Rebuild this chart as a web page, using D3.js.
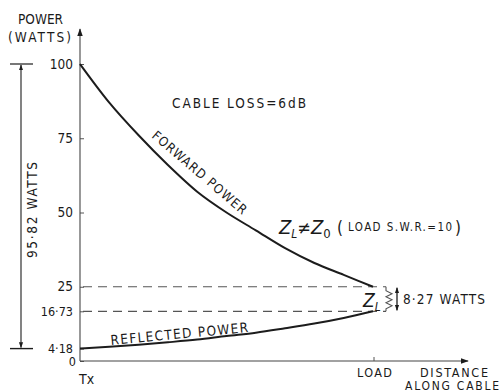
<!DOCTYPE html>
<html><head><meta charset="utf-8">
<script src="https://cdn.jsdelivr.net/npm/d3@7"></script>
<style>
body{margin:0;background:#fff;}
text{font-family:"DejaVu Sans Condensed","DejaVu Sans",sans-serif;fill:#1a1a1a;}
</style></head><body>
<svg id="c" width="501" height="392"></svg>
<script>
// Data
const distance = [0,0.1,0.2,0.3,0.4,0.5,0.6,0.7,0.8,0.9,1.0];          // fraction Tx -> Load
const forwardPower = [100,87,76,66,57,50,44,38,33,29,25];              // watts
const reflectedPower = [4.18,4.8,5.5,6.3,7.2,8.4,9.5,11,12.6,14.5,16.73];
const yTickValues = [100,75,50,25,16.73,4.18,0];
const dashedLevels = [25,16.73];
const netAtTx = "95·82 WATTS";
const netAtLoad = "8·27 WATTS";

const svg = d3.select("#c");
const x = d3.scaleLinear().domain([0,1]).range([80,373]);
const y = d3.scaleLinear().domain([0,100]).range([361,64]);
const ink = "#1c1c1c";

const defs = svg.append("defs");
defs.append("marker").attr("id","ah").attr("viewBox","0 0 10 10").attr("refX",9).attr("refY",5)
 .attr("markerWidth",8).attr("markerHeight",8).attr("orient","auto-start-reverse").attr("markerUnits","userSpaceOnUse")
 .append("path").attr("d","M0,1.5L10,5L0,8.5Z").attr("fill",ink);
defs.append("marker").attr("id","ahs").attr("viewBox","0 0 10 10").attr("refX",9).attr("refY",5)
 .attr("markerWidth",6).attr("markerHeight",6).attr("orient","auto-start-reverse").attr("markerUnits","userSpaceOnUse")
 .append("path").attr("d","M0,1.5L10,5L0,8.5Z").attr("fill",ink);

// Y axis
const yAxis = d3.axisRight(y).tickValues(yTickValues).tickSize(4).tickFormat("");
const gy = svg.append("g").attr("transform","translate(80,0)").call(yAxis);
gy.select(".domain").remove();
gy.selectAll(".tick line").attr("stroke","#555");
svg.append("line").attr("x1",80).attr("x2",80).attr("y1",y(0)).attr("y2",29)
 .attr("stroke","#444").attr("stroke-width",1.1).attr("marker-end","url(#ah)");
svg.selectAll("text.yt").data(yTickValues).join("text").attr("class","yt")
 .attr("x",d=>d===0?76:73).attr("y",d=>y(d)+ (d===0?5:4.5)).attr("text-anchor","end")
 .attr("font-size",d=>d<20?12.5:13.5).text(d=>String(d).replace(".","·"));

// X axis
svg.append("line").attr("x1",80).attr("x2",468).attr("y1",y(0)).attr("y2",y(0))
 .attr("stroke","#444").attr("stroke-width",1.1).attr("marker-end","url(#ah)");
svg.append("line").attr("x1",x(1)+1).attr("x2",x(1)+1).attr("y1",y(0)).attr("y2",y(0)-4).attr("stroke","#555");

// dashed levels
svg.selectAll("line.dl").data(dashedLevels).join("line").attr("class","dl")
 .attr("x1",83).attr("x2",386).attr("y1",d=>y(d)).attr("y2",d=>y(d))
 .attr("stroke","#555").attr("stroke-width",1.2).attr("stroke-dasharray","9,6");

// curves
const line = d3.line().x((d,i)=>x(distance[i])).y(d=>y(d)).curve(d3.curveMonotoneX);
svg.append("path").attr("d",line(forwardPower)).attr("fill","none").attr("stroke",ink).attr("stroke-width",2);
svg.append("path").attr("d",line(reflectedPower)).attr("fill","none").attr("stroke",ink).attr("stroke-width",2);

// resistor zigzag Z_L
const yt = y(25), yb = y(16.73);
const zz = d3.line()([[386,yt],[386,yt+4],[392,yt+7],[386,yt+10],[392,yt+13],[386,yt+16],[392,yt+19],[386,yt+22],[386,yb]]);
svg.append("path").attr("d",zz).attr("fill","none").attr("stroke","#555").attr("stroke-width",1.1);
svg.append("text").attr("x",363).attr("y",yb-4).attr("font-size",19).attr("font-style","italic")
 .attr("font-family","Liberation Serif, serif").text("Z").append("tspan").attr("font-size",12).attr("dy",4).text("L");
svg.append("line").attr("x1",397).attr("x2",397).attr("y1",yt+1).attr("y2",yb-1)
 .attr("stroke",ink).attr("stroke-width",1.3).attr("marker-start","url(#ahs)").attr("marker-end","url(#ahs)");
svg.append("text").attr("x",403).attr("y",yt+17).attr("font-size",13.5).attr("textLength",82).text(netAtLoad);

// left dimension 95.82
svg.append("line").attr("x1",10).attr("x2",33).attr("y1",y(100)).attr("y2",y(100)).attr("stroke",ink).attr("stroke-width",1.2);
svg.append("line").attr("x1",10).attr("x2",33).attr("y1",y(4.18)).attr("y2",y(4.18)).attr("stroke",ink).attr("stroke-width",1.4);
svg.append("line").attr("x1",21).attr("x2",21).attr("y1",y(100)+1).attr("y2",y(4.18)-1)
 .attr("stroke",ink).attr("stroke-width",1.1).attr("marker-start","url(#ahs)").attr("marker-end","url(#ahs)");
svg.append("text").attr("transform","translate(37,258) rotate(-90)")
 .attr("font-size",13.5).attr("textLength",96).text(netAtTx);

// titles
svg.append("text").attr("x",18).attr("y",24).attr("font-size",13.5).attr("textLength",45).text("POWER");
svg.append("text").attr("x",8).attr("y",42).attr("font-size",13.5).attr("textLength",63).text("(WATTS)");
svg.append("text").attr("x",172).attr("y",108).attr("font-size",13.5).attr("textLength",134).text("CABLE LOSS=6dB");

// curve labels
svg.append("text").attr("transform","translate(151,137) rotate(40.5)").attr("font-size",13).attr("textLength",120).text("FORWARD POWER");
svg.append("text").attr("transform","translate(111,345) rotate(-5.4)").attr("font-size",13.5).attr("textLength",138).text("REFLECTED POWER");

// Z_L != Z_0 label
const zt = svg.append("text").attr("x",279).attr("y",234).attr("font-family","Liberation Serif, serif");
zt.append("tspan").attr("font-size",20).attr("font-style","italic").text("Z");
zt.append("tspan").attr("font-size",12).attr("font-style","italic").attr("dy",4).text("L");
zt.append("tspan").attr("font-size",18).attr("dy",-4).text("≠");
zt.append("tspan").attr("font-size",20).attr("font-style","italic").text("Z");
zt.append("tspan").attr("font-size",13).attr("dy",4).text("0");
svg.append("text").attr("x",337).attr("y",234).attr("font-size",17).text("(");
svg.append("text").attr("x",348).attr("y",231).attr("font-size",11.5).attr("textLength",104).text("LOAD S.W.R.=10");
svg.append("text").attr("x",455).attr("y",234).attr("font-size",17).text(")");

// bottom labels
svg.append("text").attr("x",357).attr("y",377).attr("font-size",12.5).attr("textLength",35).text("LOAD");
svg.append("text").attr("x",420).attr("y",377).attr("font-size",12.5).attr("textLength",68).text("DISTANCE");
svg.append("text").attr("x",405).attr("y",389.5).attr("font-size",12).attr("textLength",94).text("ALONG CABLE");
svg.append("text").attr("x",79).attr("y",384).attr("font-size",14).attr("font-family","Liberation Serif, serif").text("Tx");
</script></body></html>
